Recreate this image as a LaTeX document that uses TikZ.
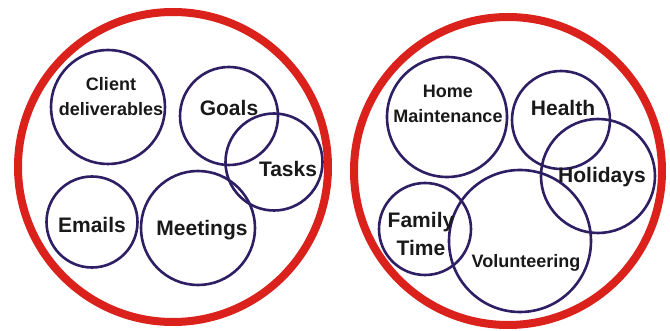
\documentclass[tikz,border=0pt]{standalone}
\usepackage{fontspec}
\setmainfont{Liberation Sans}
\definecolor{ringred}{RGB}{218,33,27}
\definecolor{ringnavy}{RGB}{46,30,100}
\definecolor{ink}{RGB}{25,25,25}
\begin{document}
\begin{tikzpicture}[x=1pt,y=-1pt,
  bigring/.style={circle, draw=ringred, line width=8pt, inner sep=0pt, minimum size=#1},
  ring/.style={circle, draw=ringnavy, line width=2.6pt, inner sep=0pt, minimum size=#1},
  big/.style={text=ink, font=\fontsize{21}{28}\selectfont\bfseries, align=center, inner sep=0pt},
  small/.style={text=ink, font=\fontsize{18}{25}\selectfont\bfseries, align=center, inner sep=0pt}]
\useasboundingbox (0,0) rectangle (670,331);
\fill[white] (0,0) rectangle (670,331);

% two outer rings
\node[bigring=310pt] (work) at (173,167) {};
\node[bigring=308pt] (life) at (508,171) {};

% work circles
\node[ring=114pt] (client) at (108,107) {};
\node[ring=98pt]  (goals) at (229,116) {};
\node[ring=97pt]  (tasks) at (274,162) {};
\node[ring=91pt]  (emails) at (92,222) {};
\node[ring=114pt] (meetings) at (198,228) {};

% life circles
\node[ring=120pt] (home) at (447,117) {};
\node[ring=98pt]  (health) at (561,120) {};
\node[ring=114pt] (holidays) at (598,176) {};
\node[ring=92pt]  (family) at (425,229) {};
\node[ring=142pt] (volunteering) at (520,241) {};

% labels
\node[small] (tclient) at (111,97) {Client\\deliverables};
\node[big] (tgoals) at (229,108) {Goals};
\node[big] (ttasks) at (288,169) {Tasks};
\node[big] (temails) at (92,225) {Emails};
\node[big] (tmeetings) at (202,230) {Meetings};

\node[small] (thome) at (448,103.5) {Home\\Maintenance};
\node[big] (thealth) at (563,108) {Health};
\node[big] (tholidays) at (602,177) {Holidays};
\node[big] (tfamily) at (421,234) {Family\\Time};
\node[small] (tvolunteering) at (526,263) {Volunteering};
\end{tikzpicture}
\end{document}
